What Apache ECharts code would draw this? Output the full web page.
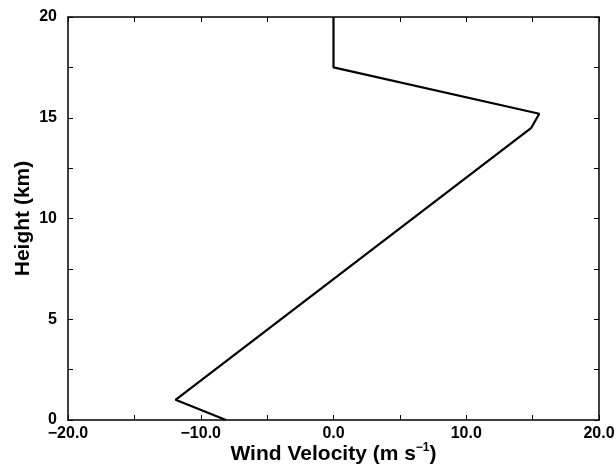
<!DOCTYPE html>
<html>
<head>
<meta charset="UTF-8">
<script src="https://cdn.jsdelivr.net/npm/echarts@6/dist/echarts.min.js"></script>
<style>
html,body{margin:0;padding:0;background:#fff;}
#chart{width:616px;height:468px;}
</style>
</head>
<body>
<div id="chart"></div>
<script>
// wind profile, velocity (m/s) vs height (km)
var velocity = [-8.1, -11.9, 14.9, 15.5, 0.0, 0.0];
var height = [0.0, 1.0, 14.5, 15.2, 17.5, 20.0];
var xLabels = [-20, -10, 0, 10, 20];
var yLabels = [0, 5, 10, 15, 20];

var pts = velocity.map(function (v, i) { return [v, height[i]]; });
var font = 'Liberation Sans, Arial, sans-serif';

function fmtX(v) {
    if (xLabels.indexOf(v) < 0) return '';
    var s = Math.abs(v).toFixed(1);
    return v < 0 ? '\u2212' + s : s;
}
function fmtY(v) {
    return yLabels.indexOf(v) < 0 ? '' : String(v);
}

var axisLine = {show: true, onZero: false, lineStyle: {color: '#000', width: 1.5}};
var tick = {show: true, inside: true, length: 5, lineStyle: {color: '#000', width: 1}};

var chart = echarts.init(document.getElementById('chart'));
chart.setOption({
    animation: false,
    grid: {left: 68, right: 17, top: 17, bottom: 48, outerBoundsMode: 'none', containLabel: false},
    xAxis: [{
        type: 'value', min: -20, max: 20, interval: 5,
        axisLine: axisLine, axisTick: tick, splitLine: {show: false},
        axisLabel: {formatter: fmtX, color: '#000', fontFamily: font, fontWeight: 'bold', fontSize: 16, margin: 6},
        name: '{a|Wind Velocity (m s}{s|\u22121}{a|)}',
        nameLocation: 'middle', nameGap: 22, nameMoveOverlap: false,
        nameTextStyle: {
            rich: {
                a: {fontFamily: font, fontWeight: 'bold', fontSize: 21, color: '#000'},
                s: {fontFamily: font, fontWeight: 'bold', fontSize: 12, color: '#000', verticalAlign: 'top', padding: [0, 0, 12, 0]}
            }
        }
    }, {
        type: 'value', position: 'top', min: -20, max: 20, interval: 5,
        axisLine: axisLine, axisTick: tick, splitLine: {show: false},
        axisLabel: {show: false}
    }],
    yAxis: [{
        type: 'value', min: 0, max: 20, interval: 2.5,
        axisLine: axisLine, axisTick: tick, splitLine: {show: false},
        axisLabel: {formatter: fmtY, color: '#000', fontFamily: font, fontWeight: 'bold', fontSize: 16, margin: 11},
        name: 'Height (km)', nameLocation: 'middle', nameGap: 34, nameMoveOverlap: false,
        nameTextStyle: {fontFamily: font, fontWeight: 'bold', fontSize: 21, color: '#000'}
    }, {
        type: 'value', position: 'right', min: 0, max: 20, interval: 2.5,
        axisLine: axisLine, axisTick: tick, splitLine: {show: false},
        axisLabel: {show: false}
    }],
    series: [{
        type: 'line',
        data: pts,
        showSymbol: false,
        lineStyle: {color: '#000', width: 2.2},
        itemStyle: {color: '#000'}
    }]
});
</script>
</body>
</html>
